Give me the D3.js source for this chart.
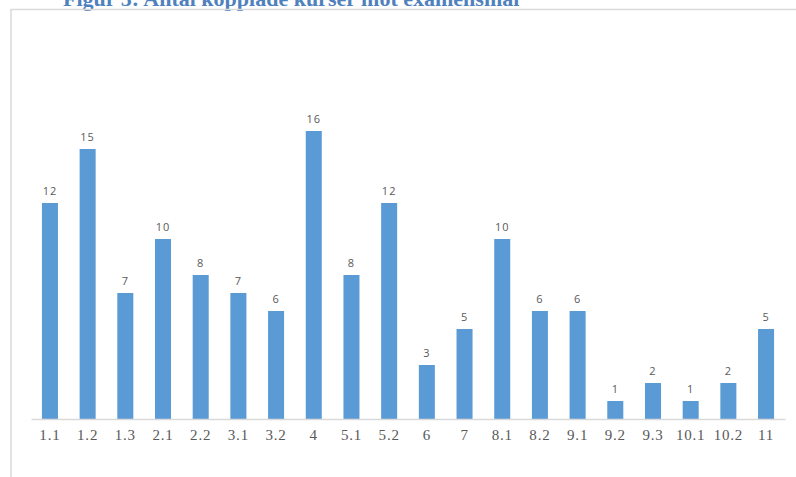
<!DOCTYPE html>
<html>
<head>
<meta charset="utf-8">
<script src="https://cdn.jsdelivr.net/npm/d3@7"></script>
<style>
  html, body { margin: 0; padding: 0; background: #fff; overflow: hidden; }
</style>
</head>
<body>
<svg id="chart" width="796" height="477"></svg>
<script>
// categories (examensmål) and number of linked courses
var categories = ["1.1", "1.2", "1.3", "2.1", "2.2", "3.1", "3.2", "4", "5.1", "5.2",
                  "6", "7", "8.1", "8.2", "9.1", "9.2", "9.3", "10.1", "10.2", "11"];
var courseCounts = [12, 15, 7, 10, 8, 7, 6, 16, 8, 12, 3, 5, 10, 6, 6, 1, 2, 1, 2, 5];

var title = "Figur 5: Antal kopplade kurser mot examensmål";

var svg = d3.select("#chart");

// title, cut off at top like the source
svg.append("text")
  .attr("x", 63)
  .attr("y", 6)
  .attr("fill", "#4F81BD")
  .attr("font-family", "'Liberation Serif', 'DejaVu Serif', serif")
  .attr("font-weight", "bold")
  .attr("font-size", 22)
  .text(title);

// chart frame (left + top edges visible)
svg.append("path")
  .attr("d", "M11,477 V9.5 H796")
  .attr("fill", "none")
  .attr("stroke", "#d9d9d9")
  .attr("stroke-width", 1.5);

var x = d3.scaleBand()
  .domain(categories)
  .range([31, 785])
  .paddingInner(0.575)
  .paddingOuter(0.29);

var y = d3.scaleLinear()
  .domain([0, 16])
  .range([419, 131]);

// bars
svg.selectAll("rect.bar")
  .data(courseCounts)
  .enter().append("rect")
  .attr("class", "bar")
  .attr("x", function(d, i){ return x(categories[i]) })
  .attr("y", function(d){ return y(d) })
  .attr("width", x.bandwidth())
  .attr("height", function(d){ return y(0) - y(d) })
  .attr("fill", "#5B9BD5");

// value labels
svg.selectAll("text.val")
  .data(courseCounts)
  .enter().append("text")
  .attr("class", "val")
  .attr("x", function(d, i){ return x(categories[i]) + x.bandwidth() / 2 })
  .attr("y", function(d){ return y(d) - 8 })
  .attr("text-anchor", "middle")
  .attr("fill", "#595959")
  .attr("font-family", "'Open Sans', 'Liberation Sans', sans-serif")
  .attr("font-size", 11)
  .attr("letter-spacing", 1)
  .text(function(d){ return d });

// x axis
var xAxis = d3.axisBottom(x).tickSize(0).tickPadding(10);
var gx = svg.append("g")
  .attr("transform", "translate(0," + y(0) + ")")
  .call(xAxis);
gx.select(".domain").attr("stroke", "#d9d9d9").attr("stroke-width", 1.5);
gx.selectAll("text")
  .attr("fill", "#595959")
  .attr("font-family", "'Liberation Serif', 'DejaVu Serif', serif")
  .attr("font-size", 15)
  .attr("letter-spacing", 0.8);
</script>
</body>
</html>
